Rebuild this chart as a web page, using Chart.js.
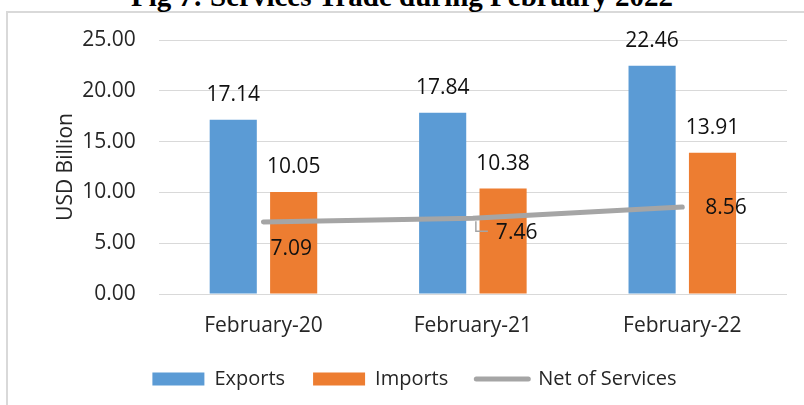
<!DOCTYPE html>
<html>
<head>
<meta charset="utf-8">
<script src="https://cdn.jsdelivr.net/npm/chart.js@4.4.1/dist/chart.umd.min.js"></script>
<style>
    html, body { margin: 0; padding: 0; background: #fff; }
    #wrap { position: relative; width: 804px; height: 405px; overflow: hidden; }
    #frame { position: absolute; left: 6px; top: 11px; width: 840px; height: 440px; border-left: 2px solid #d9d9d9; border-top: 2px solid #d9d9d9; }
    #title { position: absolute; left: 0; width: 804px; top: -18px; text-align: center; font: bold 29px/29px "Liberation Serif", "Times New Roman", serif; color: #000; white-space: nowrap; }
    #chartTrade { position: absolute; left: 0; top: 0; }
</style>
</head>
<body>
<div id="wrap">
    <div id="frame"></div>
    <div id="title">Fig 7: Services Trade during February 2022</div>
    <canvas id="chartTrade" width="804" height="405"></canvas>
</div>
<script>
const kategori = ["February-20", "February-21", "February-22"];
const dataExports = [17.14, 17.84, 22.46];
const dataImports = [10.05, 10.38, 13.91];
const dataNet = [7.09, 7.46, 8.56];
const tickY = [0, 5, 10, 15, 20, 25];

const fontUtama = '"Open Sans", "DejaVu Sans", sans-serif';
const warnaTeks = '#262626';

// posisi label untuk garis net (geser dari titik)
const geserLabelNet = [[7, 27], [23, 15], [23, 1]];

const labelNilai = {
    id: 'labelNilai',
    afterDatasetsDraw(chart) {
        const ctx = chart.ctx;
        ctx.save();
        ctx.font = '21px ' + fontUtama;
        ctx.fillStyle = '#111';
        ctx.textBaseline = 'middle';
        chart.data.datasets.forEach((ds, i) => {
            const meta = chart.getDatasetMeta(i);
            meta.data.forEach((el, j) => {
                const teks = ds.data[j].toFixed(2);
                if (ds.type === 'line') {
                    const g = geserLabelNet[j];
                    if (j === 1) {
                        ctx.strokeStyle = '#a5a5a5';
                        ctx.lineWidth = 1.5;
                        ctx.beginPath();
                        ctx.moveTo(el.x + 3, el.y + 3);
                        ctx.lineTo(el.x + 3, el.y + 13);
                        ctx.lineTo(el.x + 15, el.y + 13);
                        ctx.stroke();
                    }
                    ctx.textAlign = 'left';
                    ctx.fillText(teks, el.x + g[0], el.y + g[1]);
                } else {
                    ctx.textAlign = 'center';
                    ctx.fillText(teks, el.x, el.y - 25);
                }
            });
        });
        ctx.restore();
    }
};

const ctx = document.getElementById('chartTrade').getContext('2d');
new Chart(ctx, {
    type: 'bar',
    data: {
        labels: kategori,
        datasets: [
            { label: 'Exports', data: dataExports, backgroundColor: '#5b9bd5', categoryPercentage: 0.577, barPercentage: 0.78 },
            { label: 'Imports', data: dataImports, backgroundColor: '#ed7d31', categoryPercentage: 0.577, barPercentage: 0.78 },
            { type: 'line', label: 'Net of Services', data: dataNet, borderColor: '#a5a5a5', backgroundColor: '#a5a5a5', borderWidth: 5, borderCapStyle: 'round', pointRadius: 0, order: -1 }
        ]
    },
    options: {
        responsive: false,
        animation: false,
        layout: { padding: { left: 42, right: 17, top: 40, bottom: 6 } },
        scales: {
            y: {
                min: 0, max: 25,
                afterBuildTicks: (s) => { s.ticks = tickY.map(v => ({ value: v })); },
                grid: { color: '#d9d9d9', lineWidth: 1, drawTicks: false },
                border: { display: false },
                ticks: { padding: 23, color: warnaTeks, font: { family: fontUtama, size: 21 }, callback: (v) => Number(v).toFixed(2) },
                title: { display: true, text: 'USD Billion', color: warnaTeks, padding: { top: 11, bottom: -19 }, font: { family: fontUtama, size: 21 } }
            },
            x: {
                afterFit: (s) => { s.height = 47; },
                grid: { display: false, drawTicks: false },
                border: { display: false },
                ticks: { padding: 19, color: warnaTeks, font: { family: fontUtama, size: 21 } }
            }
        },
        plugins: {
            tooltip: { enabled: false },
            legend: {
                position: 'bottom',
                labels: {
                    usePointStyle: true,
                    pointStyleWidth: 52,
                    boxHeight: 13,
                    padding: 28,
                    color: warnaTeks,
                    font: { family: fontUtama, size: 20 },
                    sort: (a, b) => a.datasetIndex - b.datasetIndex,
                    generateLabels: (chart) => {
                        const items = Chart.defaults.plugins.legend.labels.generateLabels(chart);
                        items.forEach(it => {
                            if (it.datasetIndex === 2) {
                                it.pointStyle = 'line';
                                it.lineWidth = 5;
                                it.lineCap = 'round';
                            } else {
                                it.pointStyle = 'rect';
                                it.lineWidth = 0;
                            }
                        });
                        return items;
                    }
                }
            }
        }
    },
    plugins: [labelNilai]
});
</script>
</body>
</html>
